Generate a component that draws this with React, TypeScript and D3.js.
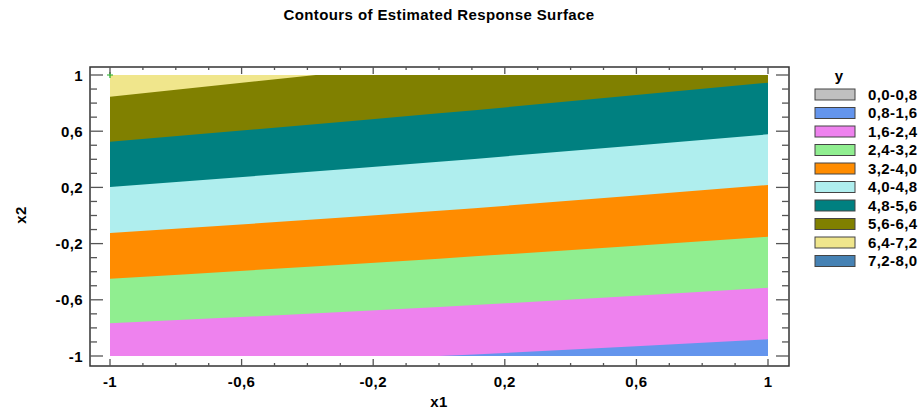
import { useEffect, useRef } from "react";
import * as d3 from "d3";

// contour levels and legend
const levels = [0.0, 0.8, 1.6, 2.4, 3.2, 4.0, 4.8, 5.6, 6.4, 7.2];
const legendLabels = ["0,0-0,8", "0,8-1,6", "1,6-2,4", "2,4-3,2", "3,2-4,0", "4,0-4,8", "4,8-5,6", "5,6-6,4", "6,4-7,2", "7,2-8,0"];
const bandColors = ["#c0c0c0", "#6495ed", "#ee82ee", "#90ee90", "#ff8c00", "#afeeee", "#008080", "#808000", "#f0e68c", "#4682b4"];

// x2 position of each contour line, read at x1 = -1, 0, 1
const x1Samples = [-1, 0, 1];
const line16 = [-1.09, -1.0, -0.881];
const line24 = [-0.767, -0.651, -0.514];
const line32 = [-0.45, -0.307, -0.151];
const line40 = [-0.125, 0.034, 0.217];
const line48 = [0.203, 0.383, 0.578];
const line56 = [0.525, 0.727, 0.945];
const line64 = [0.846, 1.09, 1.32];

const contourLines = [
  { level: 1.6, x2: line16 },
  { level: 2.4, x2: line24 },
  { level: 3.2, x2: line32 },
  { level: 4.0, x2: line40 },
  { level: 4.8, x2: line48 },
  { level: 5.6, x2: line56 },
  { level: 6.4, x2: line64 },
];

const xTicks = [-1, -0.6, -0.2, 0.2, 0.6, 1];
const yTicks = [-1, -0.6, -0.2, 0.2, 0.6, 1];

const fmt = (v: number) => String(Math.round(v * 10) / 10).replace(".", ",");

const App = () => {
  const svgRef = useRef<SVGSVGElement>(null);

  useEffect(() => {
    const svg = d3.select(svgRef.current);
    svg.selectAll("*").remove();

    const font = "'Liberation Sans', Arial, sans-serif";
    const frame = { left: 90, right: 789, top: 67, bottom: 366 };

    const x = d3.scaleLinear().domain([-1, 1]).range([110, 768]);
    const y = d3.scaleLinear().domain([-1, 1]).range([356, 75]);

    const boldText = (sel: any, size: number) =>
      sel.style("font-family", font)
        .style("font-weight", "bold")
        .style("font-size", `${size}px`)
        .style("letter-spacing", "0.4px");

    // title
    svg.append("text")
      .attr("x", 439)
      .attr("y", 20)
      .attr("text-anchor", "middle")
      .call(boldText, 15)
      .text("Contours of Estimated Response Surface");

    // clip to the data rectangle
    svg.append("defs").append("clipPath")
      .attr("id", "plot-clip")
      .append("rect")
      .attr("x", x(-1))
      .attr("y", y(1))
      .attr("width", x(1) - x(-1))
      .attr("height", y(-1) - y(1));

    const plot = svg.append("g").attr("clip-path", "url(#plot-clip)");

    // lowest visible band fills everything, each contour paints the band above it
    const base = levels.indexOf(0.8);
    plot.append("rect")
      .attr("x", x(-1))
      .attr("y", y(1))
      .attr("width", x(1) - x(-1))
      .attr("height", y(-1) - y(1))
      .attr("fill", bandColors[base]);

    const area = d3.area<number>()
      .x((_, i) => x(x1Samples[i]))
      .y1(() => y(1.6))
      .curve(d3.curveMonotoneX);

    contourLines.forEach(c => {
      const idx = levels.findIndex(l => Math.abs(l - c.level) < 1e-9);
      plot.append("path")
        .attr("fill", bandColors[idx])
        .attr("d", area.y0(d => y(d))(c.x2));
    });

    // design point marker
    svg.append("path")
      .attr("d", `M${x(-1) - 3},${y(1)}h6M${x(-1)},${y(1) - 3}v6`)
      .attr("stroke", "#22aa22")
      .attr("stroke-width", 1.2);

    // frame
    svg.append("rect")
      .attr("x", frame.left)
      .attr("y", frame.top)
      .attr("width", frame.right - frame.left)
      .attr("height", frame.bottom - frame.top)
      .attr("fill", "none")
      .attr("stroke", "#333")
      .attr("stroke-width", 1.5);

    // ticks every 0.1, major on the labelled values
    const minor = d3.range(-10, 11).map(i => i / 10);
    const isMajor = (v: number) => xTicks.some(t => Math.abs(t - v) < 1e-9);
    const tickG = svg.append("g").attr("stroke", "#555").attr("stroke-width", 1.3);

    minor.forEach(v => {
      const m = isMajor(v);
      const lx = m ? 7 : 3;
      tickG.append("line").attr("x1", x(v)).attr("x2", x(v)).attr("y1", frame.bottom).attr("y2", frame.bottom - lx);
      tickG.append("line").attr("x1", x(v)).attr("x2", x(v)).attr("y1", frame.top).attr("y2", frame.top + lx);
      const ly = m ? 13 : 7;
      tickG.append("line").attr("y1", y(v)).attr("y2", y(v)).attr("x1", frame.left).attr("x2", frame.left + ly);
      tickG.append("line").attr("y1", y(v)).attr("y2", y(v)).attr("x1", frame.right).attr("x2", frame.right - ly);
    });

    // tick labels
    svg.append("g").selectAll("text")
      .data(xTicks)
      .enter().append("text")
      .attr("x", d => x(d))
      .attr("y", 387)
      .attr("text-anchor", "middle")
      .call(boldText, 15)
      .text(d => fmt(d));

    svg.append("g").selectAll("text")
      .data(yTicks)
      .enter().append("text")
      .attr("x", 83)
      .attr("y", d => y(d) + 5.5)
      .attr("text-anchor", "end")
      .call(boldText, 15)
      .text(d => fmt(d));

    // axis titles
    svg.append("text")
      .attr("x", 439)
      .attr("y", 407)
      .attr("text-anchor", "middle")
      .call(boldText, 15)
      .text("x1");

    svg.append("text")
      .attr("transform", "translate(26,215) rotate(-90)")
      .attr("text-anchor", "middle")
      .call(boldText, 15)
      .text("x2");

    // legend
    const legend = svg.append("g").attr("transform", "translate(815,89)");
    legend.append("text")
      .attr("x", 24)
      .attr("y", -8)
      .attr("text-anchor", "middle")
      .call(boldText, 15)
      .text("y");

    const rows = legend.selectAll(".row")
      .data(legendLabels)
      .enter().append("g")
      .attr("class", "row")
      .attr("transform", (_, i) => `translate(0,${i * 18.5})`);

    rows.append("rect")
      .attr("width", 40)
      .attr("height", 11)
      .attr("fill", (_, i) => bandColors[i])
      .attr("stroke", "#444")
      .attr("stroke-width", 1);

    rows.append("text")
      .attr("x", 53)
      .attr("y", 10.5)
      .call(boldText, 15)
      .text(d => d);
  }, []);

  return (
    <svg
      ref={svgRef}
      width={919}
      height={411}
      style={{ position: "absolute", left: 0, top: 0, background: "#fff" }}
    />
  );
};

export default App;
